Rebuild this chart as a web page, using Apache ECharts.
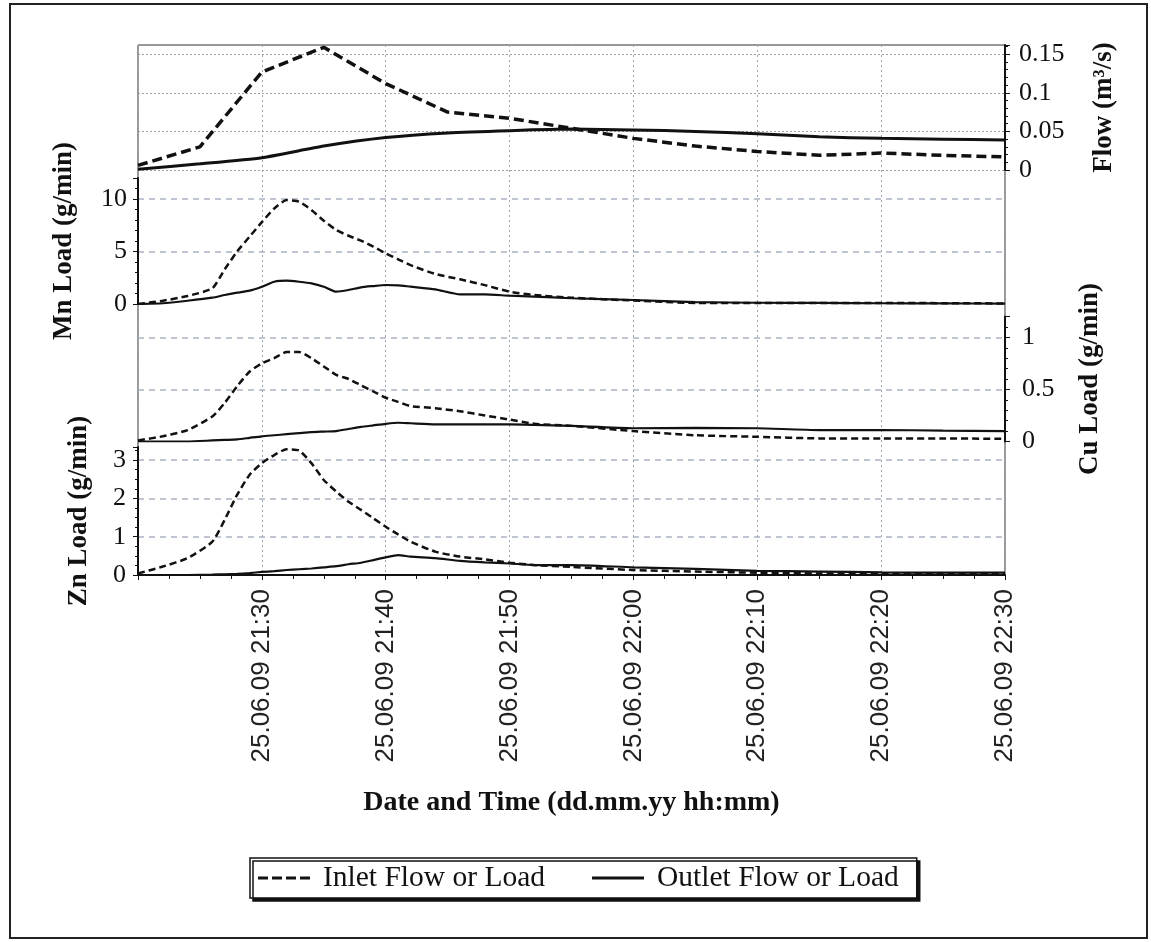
<!DOCTYPE html>
<html><head><meta charset="utf-8">
<script src="https://cdn.jsdelivr.net/npm/echarts@6/dist/echarts.min.js"></script>
<style>
html,body{margin:0;padding:0;background:#fff;}
#wrap{position:relative;width:1151px;height:942px;}
#chart{position:absolute;left:0;top:0;width:1151px;height:942px;}
#frame{position:absolute;left:9px;top:3px;width:1139px;height:936px;border:2px solid #222;box-sizing:border-box;pointer-events:none;}
</style></head><body>
<div id="wrap"><div id="chart"></div><div id="frame"></div></div>
<script>
// ---- data ----
const datePrefix = '25.06.09';
const xStart = '21:20', xEnd = '22:30';
const flowTimes = ['21:20','21:25','21:30','21:35','21:40','21:45','21:50','21:55','22:00','22:05','22:10','22:15','22:20','22:25','22:30'];
const flowInlet  = [0.006,0.030,0.127,0.159,0.112,0.075,0.067,0.054,0.041,0.031,0.024,0.019,0.022,0.019,0.017];
const flowOutlet = [0.001,0.008,0.016,0.031,0.042,0.048,0.051,0.053,0.052,0.050,0.047,0.043,0.041,0.040,0.039];

const loadTimes = ['21:20','21:22','21:24','21:26','21:27','21:28','21:29','21:30','21:31','21:32','21:33','21:34','21:35','21:36','21:37','21:38','21:39','21:40','21:41','21:42','21:44','21:46','21:48','21:50','21:52','21:55','22:00','22:05','22:10','22:15','22:20','22:25','22:30'];
const mnInlet  = [0,0.31,0.76,1.5,3.3,5.0,6.4,7.8,9.1,9.9,9.75,8.95,7.93,7.05,6.5,6.03,5.46,4.83,4.26,3.7,2.86,2.35,1.8,1.17,0.86,0.6,0.33,0.1,0.1,0.1,0.1,0.08,0.05];
const mnOutlet = [0,0.07,0.31,0.6,0.86,1.08,1.27,1.65,2.12,2.22,2.12,1.97,1.65,1.17,1.33,1.59,1.71,1.81,1.78,1.65,1.4,0.92,0.92,0.79,0.7,0.55,0.38,0.18,0.12,0.1,0.07,0.06,0.03];
const cuInlet  = [0.01,0.05,0.11,0.24,0.37,0.53,0.67,0.75,0.80,0.86,0.86,0.80,0.72,0.64,0.60,0.54,0.48,0.42,0.38,0.34,0.32,0.29,0.25,0.21,0.17,0.15,0.10,0.06,0.045,0.03,0.03,0.03,0.025];
const cuOutlet = [0,0,0,0.01,0.015,0.02,0.035,0.05,0.06,0.07,0.08,0.09,0.095,0.10,0.12,0.14,0.155,0.17,0.18,0.175,0.165,0.165,0.165,0.165,0.16,0.15,0.127,0.13,0.127,0.11,0.11,0.105,0.10];
const znInlet  = [0.04,0.22,0.44,0.87,1.44,2.09,2.61,2.92,3.13,3.28,3.25,2.92,2.48,2.18,1.91,1.70,1.48,1.26,1.06,0.87,0.61,0.48,0.41,0.32,0.26,0.21,0.13,0.09,0.06,0.04,0.03,0.03,0.03];
const znOutlet = [0,0,0,0.01,0.02,0.03,0.05,0.08,0.10,0.13,0.15,0.17,0.2,0.23,0.28,0.32,0.39,0.46,0.52,0.48,0.44,0.37,0.33,0.30,0.26,0.26,0.2,0.16,0.11,0.09,0.07,0.06,0.06];

const seriesNames = ['Inlet Flow or Load','Outlet Flow or Load'];
const axisNames = {x:'Date and Time (dd.mm.yy hh:mm)', flow:'Flow (m\u00b3/s)', mn:'Mn Load (g/min)', cu:'Cu Load (g/min)', zn:'Zn Load (g/min)'};

// ---- helpers ----
const toMin = s => { const [h,m] = s.split(':').map(Number); return h*60+m; };
const pairs = (t, v) => t.map((s,i) => [toMin(s), v[i]]);
const fmtTime = v => { const h = Math.floor(v/60), m = Math.round(v%60); return datePrefix + ' ' + h + ':' + String(m).padStart(2,'0'); };

const SERIF = 'Liberation Serif', SANS = 'Liberation Sans';
const L = 138, W = 867;
const grids = [
  {left:L, width:W, top:45, height:530, show:true, borderColor:'#333', borderWidth:1, outerBoundsMode:'none'},
  {left:L, width:W, top:45, height:125, outerBoundsMode:'none'},
  {left:L, width:W, top:178, height:126, outerBoundsMode:'none'},
  {left:L, width:W, top:316.5, height:125, outerBoundsMode:'none'},
  {left:L, width:W, top:447, height:128, outerBoundsMode:'none'}
];
const xMin = toMin(xStart), xMax = toMin(xEnd);
const xAxes = [0,1,2,3,4].map(i => i === 0 ? {
  type:'value', gridIndex:0, min:xMin, max:xMax, interval:10,
  name: axisNames.x, nameLocation:'middle', nameGap:214,
  nameTextStyle:{fontFamily:SERIF, fontWeight:'bold', fontSize:28, color:'#111'},
  axisLine:{lineStyle:{color:'#111', width:2}},
  axisTick:{show:true, length:5, lineStyle:{color:'#111'}},
  minorTick:{show:true, splitNumber:4, length:4, lineStyle:{color:'#111'}},
  axisLabel:{rotate:90, margin:14, fontFamily:SANS, fontSize:26, color:'#222', formatter:fmtTime, showMinLabel:false},
  splitLine:{show:true, lineStyle:{color:'#9aa3b0', type:[2,3], width:1}}
} : {type:'value', gridIndex:i, min:xMin, max:xMax, interval:10, show:false});

const dashedGrid = {show:true, showMinLine:false, showMaxLine:false, lineStyle:{color:'#aab4c2', type:[6,5], width:1.5}};
const labelStyle = {fontFamily:SERIF, fontSize:26, color:'#111'};
const nameStyle = {fontFamily:SERIF, fontWeight:'bold', fontSize:27, color:'#111'};
function yAx(grid, pos, max, interval, name, gap, margin, split, minorN) {
  return {
    type:'value', gridIndex:grid, position:pos, min:0, max:max, interval:interval,
    name:name, nameLocation:'middle', nameGap:gap, nameTextStyle:nameStyle,
    axisLine:{show:true, lineStyle:{color:'#111', width:2}},
    axisTick:{show:true, length:5, lineStyle:{color:'#111'}},
    minorTick:{show:true, splitNumber:minorN, length:3, lineStyle:{color:'#111'}},
    axisLabel:{...labelStyle, margin:margin, showMaxLabel:false},
    splitLine:split
  };
}
const yAxes = [
  {type:'value', gridIndex:0, min:0, max:1, show:false},
  yAx(1,'right',0.162,0.05,axisNames.flow,86,14,{show:true, showMaxLine:false, lineStyle:{color:'#a0a0a0', type:[2,2], width:1}},5),
  yAx(2,'left',12,5,axisNames.mn,60,11,dashedGrid,5),
  yAx(3,'right',1.2,0.5,axisNames.cu,72,17,dashedGrid,5),
  yAx(4,'left',3.34,1,axisNames.zn,45,12,dashedGrid,4)
];

function line(name, idx, data, dashed, width, dash) {
  return {
    type:'line', name:name, xAxisIndex:idx, yAxisIndex:idx, data:data,
    symbol:'none', showSymbol:false, smooth:dashed && idx===1 ? false : 0.2, z:5,
    lineStyle:{color:'#111', width:width, type: dashed ? dash : 'solid'},
    itemStyle:{color:'#111'}
  };
}
const series = [
  line(seriesNames[0],1,pairs(flowTimes,flowInlet),true,3.5,[10,5]),
  line(seriesNames[1],1,pairs(flowTimes,flowOutlet),false,3,null),
  line(seriesNames[0],2,pairs(loadTimes,mnInlet),true,2.5,[7,4]),
  line(seriesNames[1],2,pairs(loadTimes,mnOutlet),false,2.2,null),
  line(seriesNames[0],3,pairs(loadTimes,cuInlet),true,2.5,[7,4]),
  line(seriesNames[1],3,pairs(loadTimes,cuOutlet),false,2.2,null),
  line(seriesNames[0],4,pairs(loadTimes,znInlet),true,2.5,[7,4]),
  line(seriesNames[1],4,pairs(loadTimes,znOutlet),false,2.2,null)
];

const dashIcon = 'path://M0 0H10V3H0Z M14 0H24V3H14Z M28 0H38V3H28Z M42 0H52V3H42Z';
const solidIcon = 'path://M0 0H52V3H0Z';

const chart = echarts.init(document.getElementById('chart'), null, {renderer:'canvas'});
chart.setOption({
  animation:false,
  backgroundColor:'#fff',
  grid:grids, xAxis:xAxes, yAxis:yAxes, series:series,
  legend:{
    data:[{name:seriesNames[0], icon:dashIcon},{name:seriesNames[1], icon:solidIcon}],
    left:250, top:858, orient:'horizontal',
    itemWidth:52, itemHeight:3, itemGap:47,
    padding:[5,18,5,8],
    itemStyle:{color:'#111', borderWidth:0},
    backgroundColor:'#fff', borderColor:'#111', borderWidth:1.5,
    shadowColor:'#111', shadowBlur:0, shadowOffsetX:3, shadowOffsetY:3,
    textStyle:{fontFamily:SERIF, fontSize:29.5, color:'#111', padding:[0,0,0,8]}
  }
});
</script>
</body></html>
